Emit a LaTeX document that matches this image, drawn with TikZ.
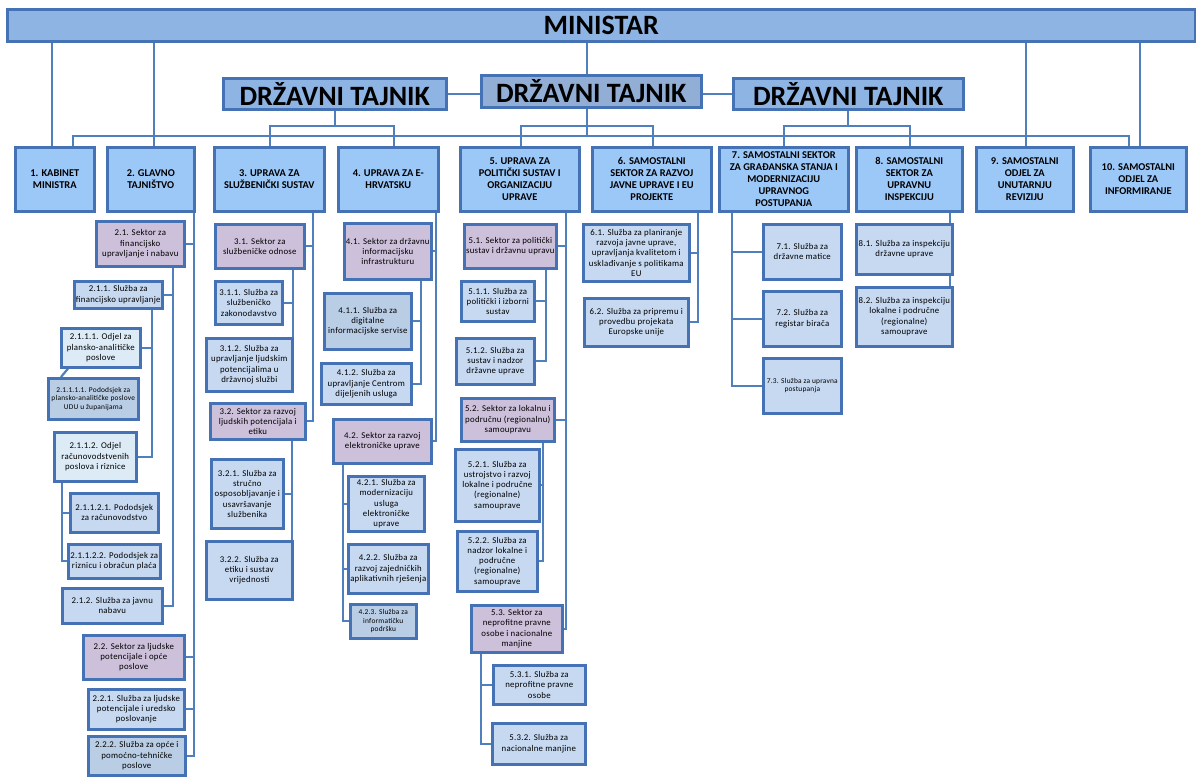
\documentclass[tikz,border=0pt]{standalone}
\usepackage{fontspec}
\setmainfont{Carlito}
\newfontfamily\subf[LetterSpace=3]{Carlito}
\usetikzlibrary{calc,shadows}
\definecolor{bord}{HTML}{4472B4}
\definecolor{conc}{HTML}{4F7FBD}
\definecolor{minfill}{HTML}{8EB4E3}
\definecolor{dtc}{HTML}{92AED5}
\definecolor{lvl1}{HTML}{9CC8F8}
\definecolor{purp}{HTML}{CCC0DA}
\definecolor{sluz}{HTML}{C6D9F1}
\definecolor{sluzd}{HTML}{B9CDE5}
\definecolor{codj}{HTML}{DCEBF6}
\pgfdeclarelayer{bg}
\pgfsetlayers{bg,main}
\tikzset{
 bx/.style={draw=bord, line width=2.6pt, align=center, inner sep=1pt, anchor=north west,
   drop shadow={shadow xshift=1.5pt, shadow yshift=-1.5pt, opacity=0.18, fill=black}},
 topb/.style={bx, fill=minfill, inner sep=0pt, font=\bfseries\fontsize{28}{30}\selectfont},
 lv/.style={bx, fill=lvl1, font=\bfseries\fontsize{10.4}{12}\selectfont},
 subb/.style={bx, font=\subf\fontsize{8.8}{10.3}\selectfont},
 sek/.style={subb, fill=purp},
 sl/.style={subb, fill=sluz},
 sld/.style={subb, fill=sluzd},
 odj/.style={subb, fill=codj},
 smallt/.style={font=\subf\fontsize{7.4}{8.4}\selectfont},
 con/.style={draw=conc, line width=2.2pt},
}
\newcommand\bx[7]{\node[#1, minimum width={#4-#2}, minimum height={#5-#3}] (#6) at (#2,#3) {#7};}
\begin{document}
\begin{tikzpicture}[x=1pt,y=-1pt]
\useasboundingbox (0,0) rectangle (1196,776);
% top
\bx{topb}{6}{8}{1194}{40}{m}{MINISTAR}
\bx{topb}{222}{77}{445}{108}{dtL}{DRŽAVNI TAJNIK}
\bx{topb,fill=dtc}{480}{74}{700}{106}{dtC}{DRŽAVNI TAJNIK}
\bx{topb}{732}{77}{962}{108}{dtR}{DRŽAVNI TAJNIK}
% level 1
\bx{lv}{14}{146}{93}{210}{n1}{1. KABINET\\MINISTRA}
\bx{lv}{106}{146}{193}{210}{n2}{2. GLAVNO\\TAJNIŠTVO}
\bx{lv}{213}{146}{323}{210}{n3}{3. UPRAVA ZA\\SLUŽBENIČKI SUSTAV}
\bx{lv}{337}{146}{437}{210}{n4}{4. UPRAVA ZA E-\\HRVATSKU}
\bx{lv}{459}{146}{578}{210}{n5}{5. UPRAVA ZA\\POLITIČKI SUSTAV I\\ORGANIZACIJU\\UPRAVE}
\bx{lv}{591}{146}{710}{210}{n6}{6. SAMOSTALNI\\SEKTOR ZA RAZVOJ\\JAVNE UPRAVE I EU\\PROJEKTE}
\bx{lv}{718}{146}{847}{210}{n7}{7. SAMOSTALNI SEKTOR\\ZA GRAĐANSKA STANJA I\\MODERNIZACIJU\\UPRAVNOG\\POSTUPANJA}
\bx{lv}{855}{146}{961}{210}{n8}{8. SAMOSTALNI\\SEKTOR ZA\\UPRAVNU\\INSPEKCIJU}
\bx{lv}{975}{146}{1072}{210}{n9}{9. SAMOSTALNI\\ODJEL ZA\\UNUTARNJU\\REVIZIJU}
\bx{lv}{1089}{146}{1185}{210}{n10}{10. SAMOSTALNI\\ODJEL ZA\\INFORMIRANJE}
% column 2
\bx{sek}{95}{220}{183}{265}{s21}{2.1. Sektor za\\financijsko\\upravljanje i nabavu}
\bx{sl}{73}{280}{161}{307}{s211}{2.1.1. Služba za\\financijsko upravljanje}
\bx{odj}{60}{327}{139}{366}{s2111}{2.1.1.1. Odjel za\\plansko-analitičke\\poslove}
\bx{sld,smallt}{47}{377}{137}{418}{s21111}{2.1.1.1.1. Pododsjek za\\plansko-analitičke poslove\\UDU u županijama}
\bx{odj}{53}{431}{135}{480}{s2112}{2.1.1.2. Odjel\\računovodstvenih\\poslova i riznice}
\bx{sl}{69}{492}{157}{531}{s21121}{2.1.1.2.1. Pododsjek\\za računovodstvo}
\bx{sl}{67}{543}{159}{577}{s21122}{2.1.1.2.2. Pododsjek za\\riznicu i obračun plaća}
\bx{sl}{61}{587}{161}{622}{s212}{2.1.2. Služba za javnu\\nabavu}
\bx{sek}{82}{634}{183}{678}{s22}{2.2. Sektor za ljudske\\potencijale i opće\\poslove}
\bx{sl}{87}{688}{183}{728}{s221}{2.2.1. Služba za ljudske\\potencijale i uredsko\\poslovanje}
\bx{sld}{87}{735}{184}{774}{s222}{2.2.2. Služba za opće i\\pomoćno-tehničke\\poslove}
% column 3
\bx{sek}{214}{223}{303}{267}{s31}{3.1. Sektor za\\službeničke odnose}
\bx{sl}{214}{280}{281}{323}{s311}{3.1.1. Služba za\\službeničko\\zakonodavstvo}
\bx{sl}{205}{337}{291}{390}{s312}{3.1.2. Služba za\\upravljanje ljudskim\\potencijalima u\\državnoj službi}
\bx{sek}{209}{402}{304}{438}{s32}{3.2. Sektor za razvoj\\ljudskih potencijala i\\etiku}
\bx{sl}{210}{458}{282}{527}{s321}{3.2.1. Služba za\\stručno\\osposobljavanje i\\usavršavanje\\službenika}
\bx{sl}{205}{540}{291}{598}{s322}{3.2.2. Služba za\\etiku i sustav\\vrijednosti}
% column 4
\bx{sek}{343}{222}{430}{278}{s41}{4.1. Sektor za državnu\\informacijsku\\infrastrukturu}
\bx{sld}{323}{292}{410}{348}{s411}{4.1.1. Služba za\\digitalne\\informacijske servise}
\bx{sl}{320}{362}{410}{403}{s412}{4.1.2. Služba za\\upravljanje Centrom\\dijeljenih usluga}
\bx{sek}{332}{418}{430}{462}{s42}{4.2. Sektor za razvoj\\elektroničke uprave}
\bx{sl}{347}{475}{423}{530}{s421}{4.2.1. Služba za\\modernizaciju\\usluga\\elektroničke\\uprave}
\bx{sl}{347}{543}{427}{592}{s422}{4.2.2. Služba za\\razvoj zajedničkih\\aplikativnih rješenja}
\bx{sld,smallt}{349}{603}{415}{637}{s423}{4.2.3. Služba za\\informatičku\\podršku}
% column 5
\bx{sek}{463}{223}{555}{267}{s51}{5.1. Sektor za politički\\sustav i državnu upravu}
\bx{sl}{460}{280}{533}{320}{s511}{5.1.1. Služba za\\politički i izborni\\sustav}
\bx{sl}{455}{337}{533}{383}{s512}{5.1.2. Služba za\\sustav i nadzor\\državne uprave}
\bx{sek}{460}{397}{553}{440}{s52}{5.2. Sektor za lokalnu i\\područnu (regionalnu)\\samoupravu}
\bx{sl}{454}{448}{538}{520}{s521}{5.2.1. Služba za\\ustrojstvo i razvoj\\lokalne i područne\\(regionalne)\\samouprave}
\bx{sl}{456}{530}{536}{590}{s522}{5.2.2. Služba za\\nadzor lokalne i\\područne\\(regionalne)\\samouprave}
\bx{sek}{470}{604}{561}{651}{s53}{5.3. Sektor za\\neprofitne pravne\\osobe i nacionalne\\manjine}
\bx{sl}{492}{664}{584}{703}{s531}{5.3.1. Služba za\\neprofitne pravne\\osobe}
\bx{sl}{491}{722}{584}{763}{s532}{5.3.2. Služba za\\nacionalne manjine}
% column 6
\bx{sl}{582}{223}{688}{280}{s61}{6.1. Služba za planiranje\\razvoja javne uprave,\\upravljanja kvalitetom i\\usklađivanje s politikama\\EU}
\bx{sl}{583}{297}{687}{345}{s62}{6.2. Služba za pripremu i\\provedbu projekata\\Europske unije}
% column 7
\bx{sl}{762}{223}{840}{278}{s71}{7.1. Služba za\\državne matice}
\bx{sl}{762}{290}{840}{345}{s72}{7.2. Služba za\\registar birača}
\bx{sl,smallt}{762}{357}{840}{412}{s73}{7.3. Služba za upravna\\postupanja}
% column 8
\bx{sl}{855}{223}{951}{273}{s81}{8.1. Služba za inspekciju\\državne uprave}
\bx{sl}{855}{286}{951}{345}{s82}{8.2. Služba za inspekciju\\lokalne i područne\\(regionalne)\\samouprave}

\begin{pgfonlayer}{bg}
\fill[white] (0,0) rectangle (1196,776);
% top connectors
\draw[con] (m.south -| 52,0) -- (n1.north -| 52,0);
\draw[con] (m.south -| 154,0) -- (n2.north -| 154,0);
\draw[con] (m.south -| 1026,0) -- (n9.north -| 1026,0);
\draw[con] (m.south -| 1140,0) -- (n10.north -| 1140,0);
\draw[con] (m.south -| 587,0) -- (dtC.north -| 587,0);
\draw[con] (dtL.east) -- (dtL.east -| dtC.west);
\draw[con] (dtR.west -| dtC.east) -- (dtR.west);
\coordinate (bL) at (dtL.south |- 0,126);
\coordinate (bC) at (587,126);
\coordinate (bus) at (587,136);
\coordinate (bR) at (dtR.south |- 0,126);
\draw[con] (dtL.south) -- (bL);
\draw[con] (n3.north -| 270,0) |- (bL) -| (n4.north -| 394,0);
\draw[con] (dtC.south -| bus) -- (bus);
\draw[con] (n5.north -| 521,0) |- (bC) -| (n6.north -| 653,0);
\draw[con] (n1.north -| 73,0) |- (bus) -| (n10.north -| 1129,0);
\draw[con] (dtR.south) -- (bR);
\draw[con] (n7.north -| 784,0) |- (bR) -| (n8.north -| 910,0);
% column 2
\coordinate (v2) at (194,210);
\draw[con] (v2) |- (s21.east);
\draw[con] (v2) |- (s22.east);
\draw[con] (v2) |- (s221.east);
\draw[con] (v2) |- (s222.east);
\coordinate (v21) at (173,265);
\draw[con] (v21) |- (s211.east);
\draw[con] (v21) |- (s212.east);
\coordinate (v211) at (152,307);
\draw[con] (v211) |- (s2111.east);
\draw[con] (v211) |- (s2112.east);
\draw[con] ($(s2111.south west)+(8,0)$) -- ($(s21111.north west)+(14,0)$);
\coordinate (v2112) at (62,480);
\draw[con] (v2112) |- (s21121.west);
\draw[con] (v2112) |- (s21122.west);
% column 3
\coordinate (v3) at (313,210);
\draw[con] (v3) |- (s31.east);
\draw[con] (v3) |- (s32.east);
\coordinate (v31) at (293,267);
\draw[con] (v31) |- (s311.east);
\draw[con] (v31) |- (s312.east);
\coordinate (v32) at (292,438);
\draw[con] (v32) |- (s321.east);
\draw[con] (v32) |- (s322.east);
% column 4
\coordinate (v4) at (436,210);
\draw[con] (v4) |- (s41.east);
\draw[con] (v4) |- (s42.east);
\coordinate (v41) at (421,278);
\draw[con] (v41) |- (s411.east);
\draw[con] (v41) |- (s412.east);
\coordinate (v42) at (343,462);
\draw[con] (v42) |- (s421.west);
\draw[con] (v42) |- (s422.west);
\draw[con] (v42) |- (s423.west);
% column 5
\coordinate (v5) at (566,210);
\draw[con] (v5) |- (s51.east);
\draw[con] (v5) |- (s52.east);
\draw[con] (v5) |- (s53.east);
\coordinate (v51) at (546,267);
\draw[con] (v51) |- (s511.east);
\draw[con] (v51) |- (s512.east);
\coordinate (v52) at (543,440);
\draw[con] (v52) |- (s521.east);
\draw[con] (v52) |- (s522.east);
\coordinate (v53) at (481,651);
\draw[con] (v53) |- (s531.west);
\draw[con] (v53) |- (s532.west);
% column 6
\coordinate (v6) at (698,210);
\draw[con] (v6) |- (s61.east);
\draw[con] (v6) |- (s62.east);
% column 7
\coordinate (v7) at (732,210);
\draw[con] (v7) |- (s71.west);
\draw[con] (v7) |- (s72.west);
\draw[con] (v7) |- (s73.west);
% column 8
\coordinate (v8) at (950,210);
\draw[con] (v8) -- (s81.north -| v8);
\draw[con] (s81.south -| v8) -- (s82.north -| v8);
\end{pgfonlayer}
\end{tikzpicture}
\end{document}
